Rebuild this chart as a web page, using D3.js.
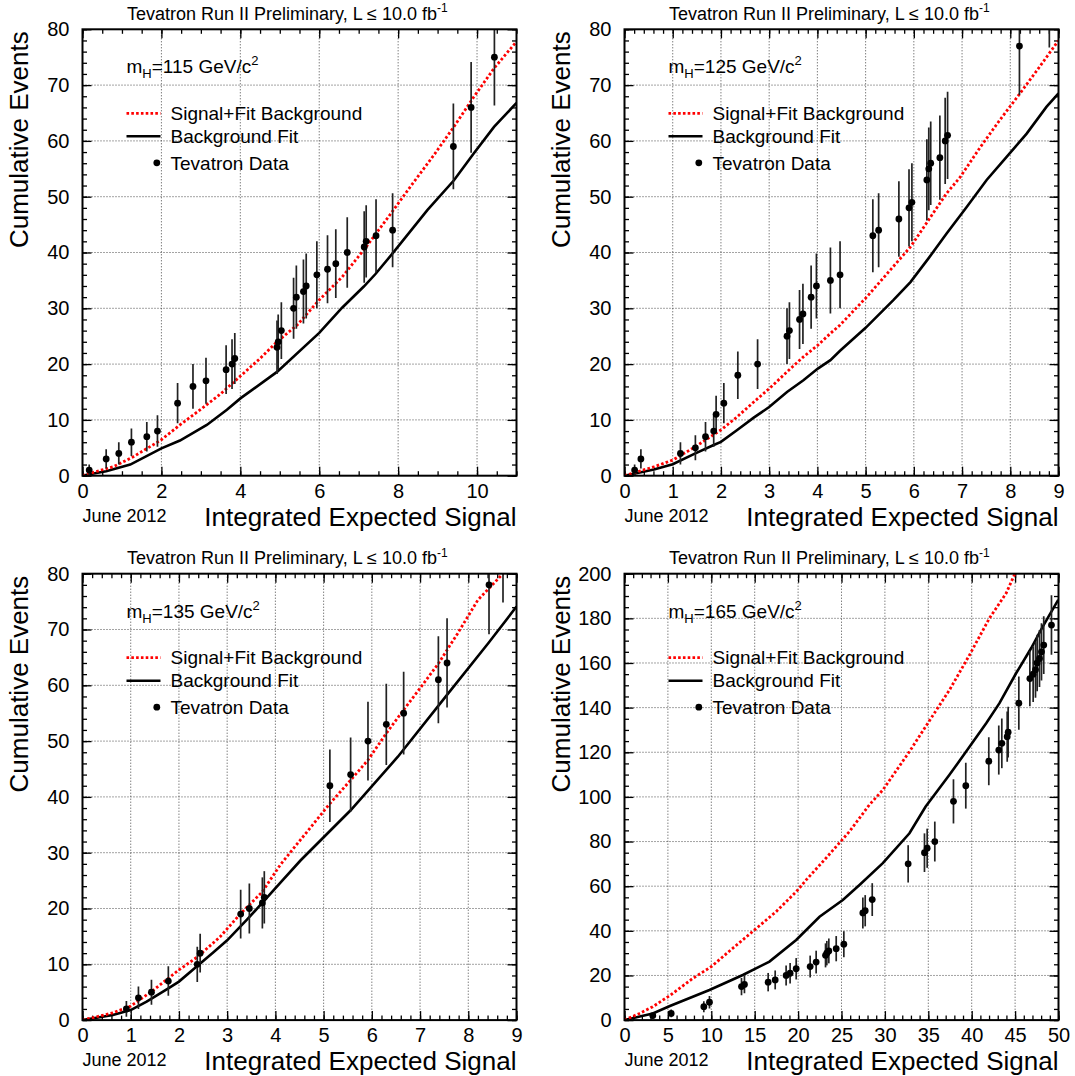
<!DOCTYPE html>
<html><head><meta charset="utf-8">
<script src="https://cdn.jsdelivr.net/npm/d3@7"></script>
<style>
body{margin:0;background:#fff;}
svg{display:block;font-family:"Liberation Sans",Arial,Helvetica,sans-serif;}
</style></head><body>
<svg id="c" width="1075" height="1076"></svg>
<script>
// ---------- data ----------
const masses = ["115", "125", "135", "165"];
const titleText = "Tevatron Run II Preliminary, L \u2264 10.0 fb";
const titleSup = "-1";
const xLabel = "Integrated Expected Signal";
const yLabel = "Cumulative Events";
const dateLabel = "June 2012";
const legendLabels = ["Signal+Fit Background", "Background Fit", "Tevatron Data"];

// mH = 115
const dataX115 = [0.17,0.60,0.92,1.24,1.63,1.90,2.41,2.80,3.13,3.64,3.79,3.86,4.93,4.96,5.04,5.35,5.42,5.60,5.67,5.94,6.21,6.42,6.71,7.14,7.19,7.44,7.86,9.40,9.85,10.44];
const dataY115 = [1,3,4,6,7,8,13,16,17,19,20,21,23,24,26,30,32,33,34,36,37,38,40,41,42,43,44,59,66,75];
const bkgX115 = [0,0.17,0.6,1.21,2.0,2.47,3.15,3.66,4.01,4.93,6.0,6.58,7.13,7.42,7.89,8.74,9.41,9.92,10.43,11.0];
const bkgY115 = [0,0.25,0.8,2.0,4.9,6.3,9.1,11.8,13.9,18.6,25.6,30.1,33.9,36.1,40.1,47.6,52.9,57.8,62.5,66.8];
const sbX115 = [0,0.17,0.78,1.29,1.99,2.47,2.98,3.49,4.01,4.5,4.93,5.44,6.0,6.58,7.21,7.86,8.31,8.9,9.41,9.92,10.43,11.0];
const sbY115 = [0,0.4,1.6,3.4,6.4,9.1,11.8,14.6,17.9,21.0,24.0,27.0,31.5,35.6,41.2,47.4,51.8,57.4,62.5,67.9,73.0,77.8];

// mH = 125
const dataX125 = [0.21,0.34,1.16,1.47,1.68,1.85,1.90,2.06,2.35,2.76,3.37,3.42,3.63,3.70,3.87,3.98,4.27,4.47,5.15,5.27,5.69,5.90,5.96,6.27,6.31,6.35,6.54,6.65,6.70,8.19,8.81];
const dataY125 = [1,3,4,5,7,8,11,13,18,20,25,26,28,29,32,34,35,36,43,44,46,48,49,53,55,56,57,60,61,77,86];
const bkgX125 = [0,0.61,1.0,1.47,1.85,2.0,2.33,2.68,3.0,3.37,3.71,4.01,4.27,4.47,5.0,5.58,5.93,6.3,6.68,7.1,7.51,7.92,8.34,8.75,9.0];
const bkgY125 = [0,1.1,2.06,4.0,5.5,6.06,8.15,10.4,12.3,15.0,17.1,19.2,20.7,22.4,26.5,31.5,34.7,38.9,43.4,48.2,53.0,57.1,61.3,66.1,68.5];
const sbX125 = [0,0.61,1.0,1.47,2.0,2.33,2.68,3.0,3.37,3.71,4.01,4.27,4.47,5.02,5.93,6.35,6.68,6.96,7.38,7.78,8.2,8.61,9.0];
const sbY125 = [0,1.6,2.8,5.2,8.2,10.5,13.2,15.6,18.6,21.3,23.4,25.5,27.0,32.0,41.0,46.4,50.6,53.5,58.9,63.7,68.5,73.3,78.0];

// mH = 135
const dataX135 = [0.91,1.16,1.43,1.78,2.38,2.44,3.28,3.46,3.73,3.77,5.13,5.56,5.92,6.30,6.66,7.38,7.56,8.43,8.72];
const dataY135 = [2,4,5,7,10,12,19,20,21,22,42,44,50,53,55,61,64,78,84];
const bkgX135 = [0,0.63,1.0,1.33,1.78,2.0,2.38,2.71,3.0,3.41,3.76,4.1,4.52,5.56,6.54,7.58,8.41,9.0];
const bkgY135 = [0,0.9,1.8,3.3,5.7,6.9,9.7,12.1,14.3,18.0,21.3,24.6,28.6,37.6,47.2,58.5,67.5,74.1];
const sbX135 = [0,0.63,1.0,1.43,2.0,2.38,2.85,3.28,3.73,4.1,4.52,5.13,5.56,5.92,6.30,6.66,7.02,7.38,7.78,8.2,8.72];
const sbY135 = [0,1.3,2.5,5.1,9.0,11.3,14.9,19.1,23.0,27.8,32.3,38.8,43.0,46.6,51.4,55.6,59.7,63.9,69.3,75.3,80.0];

// mH = 165
const dataX165 = [3.26,5.38,9.14,9.79,13.48,13.82,16.55,17.36,18.62,19.08,19.78,21.39,22.08,23.16,23.31,23.54,24.39,25.27,27.46,27.73,28.54,32.68,34.56,34.87,35.75,37.9,39.32,41.97,43.12,43.47,44.09,44.2,45.43,46.7,47.08,47.35,47.54,47.81,48.04,48.3,49.19];
const dataY165 = [2,3,6,8,15,16,17,18,20,21,23,24,26,29,30,31,32,34,48,49,54,70,75,77,80,98,105,116,121,124,127,129,142,153,155,157,160,162,165,168,177];
const bkgX165 = [0,3.26,5.3,9.79,13.63,16.7,19.78,22.47,25.15,27.07,29.76,32.83,34.68,37.44,39.36,41.67,43.2,45.13,46.86,48.2,49.97];
const bkgY165 = [0,3.0,6.4,13.5,20.2,26.2,35.9,46.3,53.8,60.5,70.3,83.7,95.6,109.9,120.3,133,142,155.5,166.7,176.4,188.3];
const sbX165 = [0,1.73,3.26,5.3,7.87,9.98,12.48,14.98,17.47,19.78,20.93,23.2,25.9,28.2,29.76,32.83,34.94,37.44,39.75,42.05,43.98,44.93,45.2];
const sbY165 = [0,3.0,6.0,11.2,18.7,23.9,32.2,40.4,48.6,57.5,62.8,72.5,84.4,96.4,103.1,120.3,133,147.9,163.6,180.1,191.3,199.6,202];

// axis ticks
const xTicks115 = [0,2,4,6,8,10];
const xTicks125 = [0,1,2,3,4,5,6,7,8,9];
const xTicks135 = [0,1,2,3,4,5,6,7,8,9];
const xTicks165 = [0,5,10,15,20,25,30,35,40,45,50];
const yTicks80 = [0,10,20,30,40,50,60,70,80];
const yTicks200 = [0,20,40,60,80,100,120,140,160,180,200];

const panels = [
  {m: masses[0], dx: dataX115, dy: dataY115, bx: bkgX115, by: bkgY115, sx: sbX115, sy: sbY115, xd: [0,11], yd: [0,80], xt: xTicks115, yt: yTicks80, xMinor: 0.5, yMinor: 2},
  {m: masses[1], dx: dataX125, dy: dataY125, bx: bkgX125, by: bkgY125, sx: sbX125, sy: sbY125, xd: [0,9], yd: [0,80], xt: xTicks125, yt: yTicks80, xMinor: 0.2, yMinor: 2},
  {m: masses[2], dx: dataX135, dy: dataY135, bx: bkgX135, by: bkgY135, sx: sbX135, sy: sbY135, xd: [0,9], yd: [0,80], xt: xTicks135, yt: yTicks80, xMinor: 0.2, yMinor: 2},
  {m: masses[3], dx: dataX165, dy: dataY165, bx: bkgX165, by: bkgY165, sx: sbX165, sy: sbY165, xd: [0,50], yd: [0,200], xt: xTicks165, yt: yTicks200, xMinor: 1, yMinor: 5}
];

// ---------- drawing ----------
const svg = d3.select("#c");
const W = 434, H = 446.4;
const origins = [[82.5, 29.3], [624.5, 29.3], [82.5, 573.7], [624.5, 573.7]];
const RED = "#ff0000";

function minorTicks(dom, step) {
  const n = Math.round((dom[1] - dom[0]) / step);
  return d3.range(n + 1).map(k => +(dom[0] + k * step).toFixed(6));
}

panels.forEach((p, i) => {
  const [ox, oy] = origins[i];
  const g = svg.append("g").attr("transform", `translate(${ox},${oy})`);
  const x = d3.scaleLinear().domain(p.xd).range([0, W]);
  const y = d3.scaleLinear().domain(p.yd).range([H, 0]);
  const cid = "clip" + i;
  g.append("clipPath").attr("id", cid).append("rect").attr("x", 0).attr("y", 0).attr("width", W).attr("height", H);

  // grid
  const grid = g.append("g").attr("stroke", "#333").attr("stroke-width", 0.9).attr("stroke-dasharray", "1,2");
  grid.selectAll("line.gx").data(p.xt.filter(v => v > p.xd[0] && v < p.xd[1])).join("line")
    .attr("x1", d => x(d)).attr("x2", d => x(d)).attr("y1", 0).attr("y2", H);
  grid.selectAll("line.gy").data(p.yt.filter(v => v > p.yd[0] && v < p.yd[1])).join("line")
    .attr("class", "gy")
    .attr("x1", 0).attr("x2", W).attr("y1", d => y(d)).attr("y2", d => y(d));

  // axes (inward ticks on all four sides)
  const xm = minorTicks(p.xd, p.xMinor), ym = minorTicks(p.yd, p.yMinor);
  const styleAxis = sel => { sel.select(".domain").remove(); sel.selectAll("line").attr("stroke-width", 1.3); };
  g.append("g").attr("transform", `translate(0,${H})`)
    .call(d3.axisBottom(x).tickValues(xm).tickSize(-4.5).tickFormat("")).call(styleAxis);
  g.append("g").attr("transform", `translate(0,${H})`)
    .call(d3.axisBottom(x).tickValues(p.xt).tickSize(-9).tickPadding(8).tickFormat(d3.format("d")))
    .call(styleAxis)
    .call(s => s.selectAll("text").attr("font-size", 20).attr("font-family", "Liberation Sans, Arial, sans-serif").attr("fill", "#000"));
  g.append("g").call(d3.axisTop(x).tickValues(xm).tickSize(-4.5).tickFormat("")).call(styleAxis);
  g.append("g").call(d3.axisTop(x).tickValues(p.xt).tickSize(-9).tickFormat("")).call(styleAxis);
  g.append("g").call(d3.axisLeft(y).tickValues(ym).tickSize(-4.5).tickFormat("")).call(styleAxis);
  g.append("g").call(d3.axisLeft(y).tickValues(p.yt).tickSize(-9).tickPadding(13).tickFormat(d3.format("d")))
    .call(styleAxis)
    .call(s => s.selectAll("text").attr("font-size", 20).attr("font-family", "Liberation Sans, Arial, sans-serif").attr("fill", "#000"));
  g.append("g").attr("transform", `translate(${W},0)`)
    .call(d3.axisRight(y).tickValues(ym).tickSize(-4.5).tickFormat("")).call(styleAxis);
  g.append("g").attr("transform", `translate(${W},0)`)
    .call(d3.axisRight(y).tickValues(p.yt).tickSize(-9).tickFormat("")).call(styleAxis);

  // curves
  const plot = g.append("g").attr("clip-path", `url(#${cid})`);
  const line = d3.line().x(d => x(d[0])).y(d => y(d[1]));
  plot.append("path").datum(d3.zip(p.bx, p.by)).attr("d", line)
    .attr("fill", "none").attr("stroke", "#000").attr("stroke-width", 2.6);
  plot.append("path").datum(d3.zip(p.sx, p.sy)).attr("d", line)
    .attr("fill", "none").attr("stroke", RED).attr("stroke-width", 2.8).attr("stroke-dasharray", "2.6,2.2");

  // data with Poisson errors
  const pts = d3.zip(p.dx, p.dy);
  plot.selectAll("line.err").data(pts).join("line").attr("class", "err")
    .attr("x1", d => x(d[0])).attr("x2", d => x(d[0]))
    .attr("y1", d => y(d[1] - Math.sqrt(d[1]))).attr("y2", d => y(d[1] + Math.sqrt(d[1])))
    .attr("stroke", "#222").attr("stroke-width", 1.7);
  plot.selectAll("circle.pt").data(pts).join("circle").attr("class", "pt")
    .attr("cx", d => x(d[0])).attr("cy", d => y(d[1])).attr("r", 3.4).attr("fill", "#000");

  // frame
  g.append("rect").attr("x", 0).attr("y", 0).attr("width", W).attr("height", H)
    .attr("fill", "none").attr("stroke", "#000").attr("stroke-width", 2);

  // title
  const t = g.append("text").attr("x", 44.5).attr("y", -9.5).attr("font-size", 18).attr("fill", "#000");
  t.append("tspan").text(titleText);
  t.append("tspan").attr("font-size", 12).attr("dy", -7.5).text(titleSup);

  // axis labels
  g.append("text").attr("x", W).attr("y", H + 50).attr("text-anchor", "end").attr("font-size", 26).text(xLabel);
  g.append("text").attr("x", 0).attr("y", H + 46).attr("font-size", 18).text(dateLabel);
  g.append("text").attr("transform", "translate(-55,0) rotate(-90)").attr("x", -2).attr("y", 0)
    .attr("text-anchor", "end").attr("font-size", 26).text(yLabel);

  // mass label
  const mt = g.append("text").attr("x", 44).attr("y", 44).attr("font-size", 19);
  mt.append("tspan").text("m");
  mt.append("tspan").attr("font-size", 13).attr("dy", 5).text("H");
  mt.append("tspan").attr("dy", -5).text("=" + p.m + " GeV/c");
  mt.append("tspan").attr("font-size", 13).attr("dy", -8).text("2");

  // legend
  const rows = [84, 107, 133.5];
  g.append("line").attr("x1", 44).attr("x2", 78).attr("y1", rows[0]).attr("y2", rows[0])
    .attr("stroke", RED).attr("stroke-width", 2.8).attr("stroke-dasharray", "2.6,2.2");
  g.append("line").attr("x1", 44).attr("x2", 78).attr("y1", rows[1]).attr("y2", rows[1])
    .attr("stroke", "#000").attr("stroke-width", 2.6);
  g.append("circle").attr("cx", 74.3).attr("cy", rows[2]).attr("r", 3.4).attr("fill", "#000");
  legendLabels.forEach((l, k) => {
    g.append("text").attr("x", 88).attr("y", rows[k] + 6.8).attr("font-size", 19).text(l);
  });
});
</script>
</body></html>
